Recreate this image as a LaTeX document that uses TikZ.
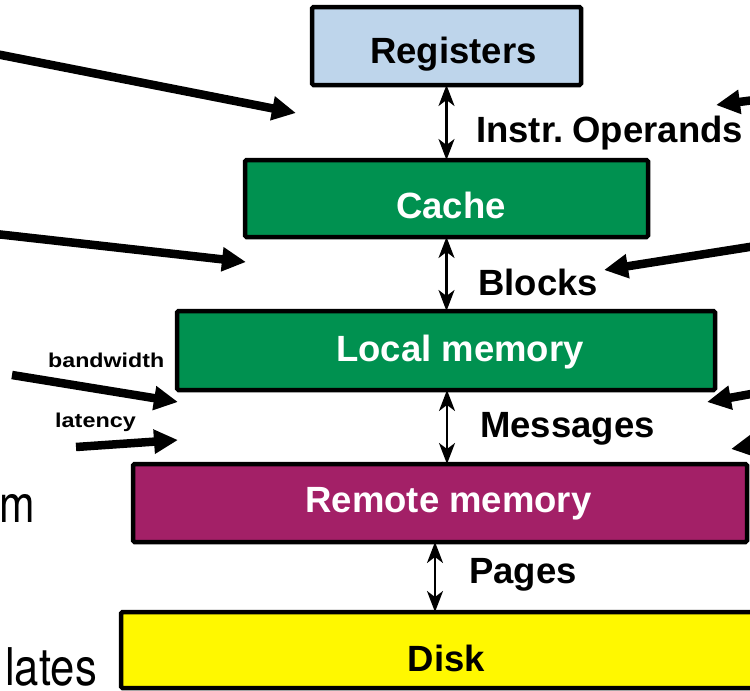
\documentclass[tikz,border=0pt]{standalone}
\usepackage{fontspec}
\setmainfont{Liberation Sans}
\newfontfamily\sidefont{TeX Gyre Heros}
\usetikzlibrary{arrows.meta}
\definecolor{regblue}{RGB}{190,213,235}
\definecolor{cachegreen}{RGB}{0,145,80}
\definecolor{remotepurple}{RGB}{163,32,103}
\definecolor{diskyellow}{RGB}{255,248,0}

\begin{document}
\begin{tikzpicture}[x=1pt,y=-1pt,
  level/.style={draw=black, line width=4.5pt, rounded corners=1.5pt,
    inner sep=0pt, outer sep=0pt, anchor=north west},
  boxtext/.style={inner sep=0pt, anchor=base, font=\fontsize{36.5}{40}\selectfont\bfseries},
  linklabel/.style={inner sep=0pt, anchor=base west, font=\fontsize{36.5}{40}\selectfont\bfseries},
  smalllabel/.style={inner sep=0pt, anchor=base west, font=\fontsize{20}{22}\selectfont\bfseries},
  sidetext/.style={inner sep=0pt, anchor=base east, font=\sidefont\fontsize{52}{56}\selectfont},
  dbl/.style={line width=2.2pt,
    {Stealth[length=21pt,width=16pt,inset=6pt]}-{Stealth[length=21pt,width=16pt,inset=6pt]}},
  pointer/.style={line width=8.5pt, -{Triangle[length=24pt,width=23pt]}}
]
\useasboundingbox (0,0) rectangle (750,691);

% memory hierarchy levels
\node[level, fill=regblue, minimum width=269pt, minimum height=78pt] (reg) at (312,7) {};
\node[level, fill=cachegreen, minimum width=403pt, minimum height=77pt] (cache) at (245,160) {};
\node[level, fill=cachegreen, minimum width=538pt, minimum height=79pt] (local) at (177,311) {};
\node[level, fill=remotepurple, minimum width=614pt, minimum height=78pt] (remote) at (133,464) {};
\node[level, fill=diskyellow, minimum width=660pt, minimum height=76pt] (disk) at (121,612) {};

\node[boxtext] (regT) at (453.5,63) {Registers};
\node[boxtext, text=white] (cacheT) at (451,218) {Cache};
\node[boxtext, text=white] (localT) at (460,361) {Local memory};
\node[boxtext, text=white] (remoteT) at (448.5,512) {Remote memory};
\node[boxtext] (diskT) at (446.5,671) {Disk};

% transfers between adjacent levels
\draw[dbl] (reg.south) -- (reg.south |- cache.north);
\draw[dbl] (cache.south) -- (cache.south |- local.north);
\draw[dbl] ([xshift=1pt]local.south) -- ([xshift=1pt]local.south |- remote.north);
\draw[dbl] ([xshift=-5pt]remote.south) -- ([xshift=-5pt]remote.south |- disk.north);

\node[linklabel] (lOps) at (476,142) {Instr.\kern-1pt\ Operands};
\node[linklabel] (lBlk) at (478,295) {Blocks};
\node[linklabel] (lMsg) at (480,437) {Messages};
\node[linklabel] (lPg) at (469,583) {Pages};

% annotations on the left
\node[smalllabel] (bw) at (48,367) {\scalebox{1.16}[1]{bandwidth}};
\node[smalllabel] (lat) at (55,427) {\scalebox{1.17}[1]{latency}};
\node[sidetext] (sm) at (35,522) {\scalebox{0.82}[1]{m}};
\node[sidetext] (sl) at (97,685) {\scalebox{0.84}[1]{lates}};

% pointer arrows
\coordinate (p1s) at (-4,54);   \coordinate (p1e) at (296,113);
\coordinate (p2s) at (-4,234);  \coordinate (p2e) at (246,262);
\coordinate (p3s) at (12,375);  \coordinate (p3e) at (178,402);
\coordinate (p4s) at (76,447);  \coordinate (p4e) at (178,440);
\coordinate (p5s) at (762,99);  \coordinate (p5e) at (716,105);
\coordinate (p6s) at (762,245); \coordinate (p6e) at (604,270);
\coordinate (p7s) at (762,392); \coordinate (p7e) at (707,402);
\coordinate (p8s) at (762,444); \coordinate (p8e) at (731,449);

\draw[pointer] (p1s) -- (p1e);
\draw[pointer] (p2s) -- (p2e);
\draw[pointer] (p3s) -- (p3e);
\draw[pointer] (p4s) -- (p4e);
\draw[pointer] (p5s) -- (p5e);
\draw[pointer] (p6s) -- (p6e);
\draw[pointer] (p7s) -- (p7e);
\draw[pointer] (p8s) -- (p8e);
\end{tikzpicture}
\end{document}
